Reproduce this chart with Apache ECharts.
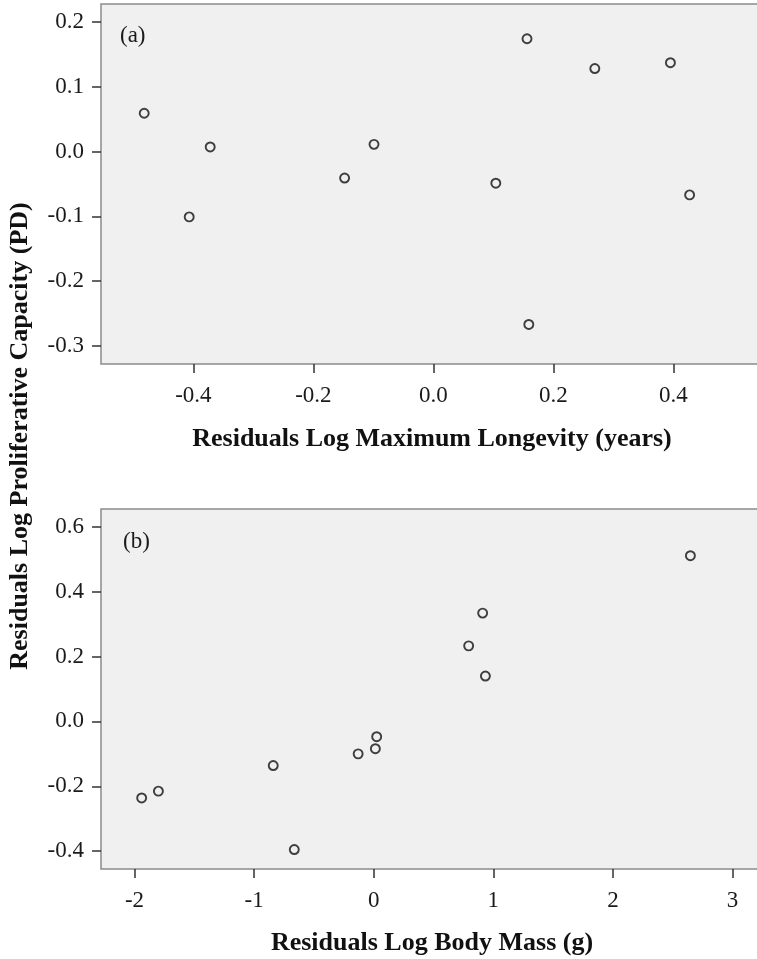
<!DOCTYPE html>
<html>
<head>
<meta charset="utf-8">
<script src="https://cdn.jsdelivr.net/npm/echarts@6/dist/echarts.min.js"></script>
<style>
  html, body { margin: 0; padding: 0; background: #fff; overflow: hidden; }
  /* a little wider than the page so the plot boxes run off the right edge */
  #chart { width: 768px; height: 959px; }
</style>
</head>
<body>
<div id="chart"></div>
<script>
// panel (a): residual longevity vs residual proliferative capacity
const longevityResid = [-0.482, -0.372, -0.407, -0.148, -0.099, 0.156, 0.269, 0.395, 0.104, 0.427, 0.159]
const pdResidA = [0.059, 0.007, -0.101, -0.041, 0.011, 0.174, 0.128, 0.137, -0.049, -0.067, -0.267]

// panel (b): residual body mass vs residual proliferative capacity
const bodyMassResid = [-1.94, -1.80, -0.84, -0.664, -0.13, 0.014, 0.025, 0.794, 0.911, 0.934, 2.648]
const pdResidB = [-0.236, -0.215, -0.136, -0.395, -0.100, -0.084, -0.047, 0.233, 0.334, 0.140, 0.511]

const xTicksA = [-0.4, -0.2, 0, 0.2, 0.4]
const yTicksA = [-0.3, -0.2, -0.1, 0, 0.1, 0.2]
const xTicksB = [-2, -1, 0, 1, 2, 3]
const yTicksB = [-0.4, -0.2, 0, 0.2, 0.4, 0.6]

const serif = '"Liberation Serif", "Times New Roman", serif'
const tickFont = { fontFamily: serif, fontSize: 23, color: '#1a1a1a' }
const nameFont = { fontFamily: serif, fontSize: 26, fontWeight: 'bold', color: '#111' }

const chart = echarts.init(document.getElementById('chart'))

function valueAxis (idx, min, max, ticks, fmt, margin, extra) {
  return Object.assign({
    type: 'value',
    gridIndex: idx,
    min: min,
    max: max,
    axisLine: { show: false, onZero: false },
    splitLine: { show: false },
    axisTick: {
      show: true,
      customValues: ticks,
      length: 9,
      lineStyle: { color: '#333', width: 1.5 }
    },
    axisLabel: Object.assign({
      customValues: ticks,
      margin: margin,
      formatter: fmt
    }, tickFont)
  }, extra || {})
}

const oneDec = v => v.toFixed(1)
const intFmt = v => String(Math.round(v))

const dot = {
  type: 'scatter',
  symbol: 'circle',
  symbolSize: 9,
  itemStyle: { color: '#f0f0f0', borderColor: '#111', borderWidth: 1.9 },
  emphasis: { disabled: true }
}

const option = {
  animation: false,
  backgroundColor: '#fff',
  grid: [
    { left: 101, top: 4, width: 662, height: 360, show: true, backgroundColor: '#f0f0f0', borderColor: '#8a8a8a', borderWidth: 1.5 },
    { left: 101, top: 509, width: 662, height: 360, show: true, backgroundColor: '#f0f0f0', borderColor: '#8a8a8a', borderWidth: 1.5 }
  ],
  xAxis: [
    valueAxis(0, -0.554, 0.5493, xTicksA, oneDec, 20, {
      name: 'Residuals Log Maximum Longevity (years)',
      nameLocation: 'middle',
      nameGap: 62,
      nameTextStyle: nameFont
    }),
    valueAxis(1, -2.28, 3.255, xTicksB, intFmt, 20, {
      name: 'Residuals Log Body Mass (g)',
      nameLocation: 'middle',
      nameGap: 61,
      nameTextStyle: nameFont
    })
  ],
  yAxis: [
    valueAxis(0, -0.328, 0.2276, yTicksA, oneDec, 17),
    valueAxis(1, -0.455, 0.655, yTicksB, oneDec, 17)
  ],
  graphic: [
    {
      type: 'text',
      x: 20,
      y: 436,
      rotation: Math.PI / 2,
      style: { text: 'Residuals Log Proliferative Capacity (PD)', font: 'bold 26px ' + serif, fill: '#111', textAlign: 'center', textVerticalAlign: 'middle' }
    },
    {
      type: 'text',
      x: 120,
      y: 36,
      style: { text: '(a)', font: '23px ' + serif, fill: '#1a1a1a', textVerticalAlign: 'middle' }
    },
    {
      type: 'text',
      x: 123,
      y: 542,
      style: { text: '(b)', font: '23px ' + serif, fill: '#1a1a1a', textVerticalAlign: 'middle' }
    }
  ],
  series: [
    Object.assign({ xAxisIndex: 0, yAxisIndex: 0, data: longevityResid.map((x, i) => [x, pdResidA[i]]) }, dot),
    Object.assign({ xAxisIndex: 1, yAxisIndex: 1, data: bodyMassResid.map((x, i) => [x, pdResidB[i]]) }, dot)
  ]
}

chart.setOption(option)
</script>
</body>
</html>
